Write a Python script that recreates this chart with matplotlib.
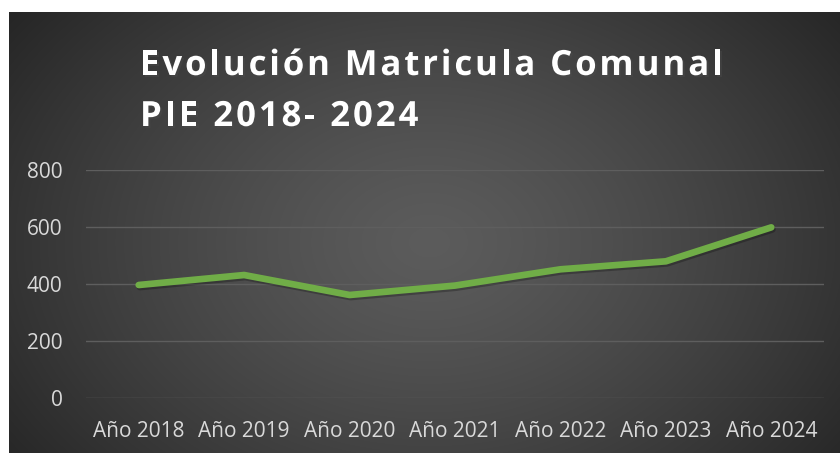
import numpy as np
import matplotlib.pyplot as plt
import matplotlib.patheffects as pe

# datos
anios = ["Año 2018", "Año 2019", "Año 2020", "Año 2021", "Año 2022", "Año 2023", "Año 2024"]
matricula = [397, 432, 362, 395, 452, 480, 599]
yticks = [0, 200, 400, 600, 800]
titulo = ["Evolución Matricula Comunal", "PIE 2018- 2024"]

W, H = 840, 453
fig = plt.figure(figsize=(W / 100, H / 100), dpi=100)
fig.patch.set_facecolor("white")

# fondo con degradado radial
bg = fig.add_axes([9/W, 0, 1 - 9/W, 1 - 12/H])
yy, xx = np.mgrid[0:441, 0:831]
r = np.sqrt(((xx - 420) / 520.0) ** 2 + ((yy - 230) / 380.0) ** 2)
r = np.clip(r, 0, 1)
c0, c1 = 0.36, 0.15
img = c0 + (c1 - c0) * r ** 1.3
bg.imshow(np.dstack([img, img, img]), aspect="auto", extent=[0, 1, 0, 1])
bg.axis("off")

ax = fig.add_axes([86/W, 1 - 398.3/H, (824 - 86)/W, (398.3 - 170)/H])
ax.patch.set_alpha(0)
x = np.arange(len(anios))
ax.plot(x, matricula, color="#70AD47", linewidth=4.8, solid_capstyle="round",
        solid_joinstyle="round",
        path_effects=[pe.SimpleLineShadow(offset=(0.8, -1.5), shadow_color="black", alpha=0.25),
                      pe.Normal()])
ax.set_xlim(-0.5, 6.5)
ax.set_ylim(0, 800)
ax.set_yticks(yticks)
ax.set_xticks(x)
ax.set_xticklabels(anios)
ax.grid(True, axis="y", color="#5e5e5e", linewidth=1.0)
ax.set_axisbelow(True)
for s in ax.spines.values():
    s.set_visible(False)
ax.tick_params(length=0, colors="#d9d9d9", labelsize=15)
ax.tick_params(axis="x", pad=16)
ax.tick_params(axis="y", pad=17)
for lbl in ax.get_xticklabels() + ax.get_yticklabels():
    lbl.set_fontfamily("Open Sans")

# titulo con espaciado entre letras
renderer = fig.canvas.get_renderer()
espacio = 2.9  # px extra por letra
base_y = [75, 126]
sombra = [pe.withSimplePatchShadow(offset=(1.5, -1.5), alpha=0.4)]
for linea, by in zip(titulo, base_y):
    x0 = 140
    for i, ch in enumerate(linea):
        if i > 0:
            t = fig.text(0, 0, linea[:i], fontsize=25, fontweight="bold", family="Open Sans")
            wpre = t.get_window_extent(renderer).width
            t.remove()
        else:
            wpre = 0
        fig.text((x0 + wpre + i * espacio) / W, 1 - by / H, ch, color="white",
                 fontsize=25, fontweight="bold", family="Open Sans",
                 ha="left", va="baseline", path_effects=sombra)

fig.savefig("out.png", dpi=100)
